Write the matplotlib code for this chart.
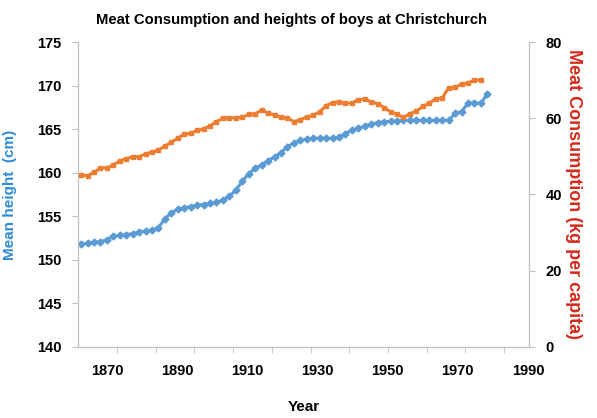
import numpy as np
import matplotlib
matplotlib.use('Agg')
import matplotlib.pyplot as plt

# values (one point per marker)
height_cm = [151.8, 151.9, 152.0, 152.1, 152.3, 152.7, 152.8, 152.9, 153.0, 153.2,
             153.3, 153.4, 153.7, 154.7, 155.4, 155.8, 156.0, 156.1, 156.25, 156.35,
             156.5, 156.6, 156.85, 157.3, 158.0, 159.0, 159.9, 160.5, 160.9, 161.4,
             161.8, 162.3, 163.0, 163.4, 163.7, 163.85, 163.95, 163.95, 163.95, 163.95,
             164.1, 164.5, 164.9, 165.1, 165.35, 165.55, 165.75, 165.85, 165.9, 165.95,
             166.0, 166.0, 166.0, 166.0, 166.0, 166.0, 166.0, 166.0, 166.8, 167.0,
             168.0, 168.0, 168.0, 169.0]

meat_kg = [45.1, 44.9, 45.8, 46.9, 47.0, 47.7, 48.8, 49.4, 49.9, 49.9,
           50.7, 51.1, 51.7, 52.7, 53.7, 54.8, 55.8, 56.05, 56.8, 57.2,
           58.0, 59.1, 60.0, 60.1, 60.1, 60.3, 61.0, 61.1, 62.2, 61.3,
           60.9, 60.2, 60.1, 59.1, 59.6, 60.3, 60.8, 61.7, 63.3, 64.1,
           64.3, 63.9, 64.0, 64.9, 65.0, 64.3, 63.8, 62.8, 61.7, 61.0,
           60.2, 61.2, 61.9, 63.1, 64.0, 65.1, 65.3, 68.0, 68.1, 69.0,
           69.2, 70.0, 70.0]

first_year = 1862.6
last_year = 1978.4
year_labels = [1870, 1890, 1910, 1930, 1950, 1970, 1990]

years = np.linspace(first_year, last_year, len(height_cm))

blue = '#5b9bd5'
orange = '#ed7d31'
grey = '#bfbfbf'

plt.rcParams['font.family'] = ['Liberation Sans', 'DejaVu Sans']
plt.rcParams['font.weight'] = 'bold'

fig = plt.figure(figsize=(5.97, 4.18), dpi=100)
ax = fig.add_axes([0.1307, 0.1699, 0.7554, 0.7296])
ax2 = ax.twinx()

ax.plot(years, height_cm, color=blue, lw=2.2, marker='D', ms=3.5, zorder=3)
ax2.plot(years[:len(meat_kg)], meat_kg, color=orange, lw=2.2, marker='s', ms=2.8, zorder=3)

ax.set_xlim(1861.73, 1990.28)
ax.set_ylim(140, 175)
ax2.set_ylim(0, 80)
ax.set_yticks(np.arange(140, 176, 5))
ax2.set_yticks([0, 20, 40, 60, 80])
ax.set_xticks(year_labels)
# excel-style tick marks that do not sit under the labels
ax.set_xticks(1872.85 + 11.03 * np.arange(11), minor=True)
ax.tick_params(axis='x', which='major', length=0, pad=12, labelsize=10.5)
ax.tick_params(axis='x', which='minor', length=4, color=grey)
ax.tick_params(axis='y', length=4, color=grey, labelsize=10.5, pad=8)
ax2.tick_params(axis='y', length=4, color=grey, labelsize=10.5, pad=8)

for a in (ax, ax2):
    a.spines['top'].set_visible(False)
    for s in ('left', 'right', 'bottom'):
        a.spines[s].set_color(grey)

ax.set_xlabel('Year', fontsize=11, fontweight='bold', labelpad=16)
ax.set_ylabel('Mean height  (cm)', fontsize=11, fontweight='bold', color='#2e8bd6', labelpad=14)
ax2.set_ylabel('Meat Consumption (kg per capita)', fontsize=13, fontweight='bold',
               color='#d42a1c', rotation=270, labelpad=14)
fig.suptitle('Meat Consumption and heights of boys at Christchurch', x=0.488, y=0.97,
             fontsize=10.7, fontweight='bold')

plt.savefig('out.png', dpi=100)
